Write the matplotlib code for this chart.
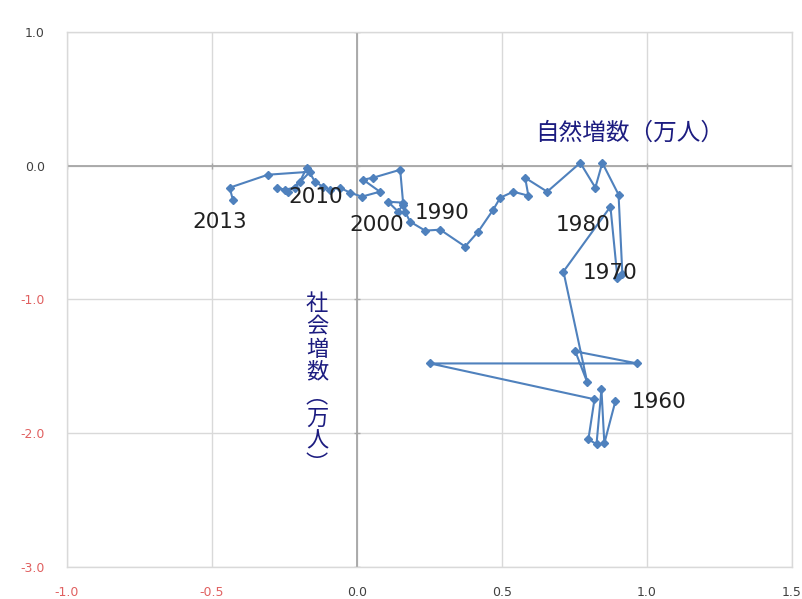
import numpy as np
import matplotlib.pyplot as plt

# natural increase (x) and social increase (y), 10k persons, 1960 -> 2013
natural = [0.891, 0.853, 0.843, 0.826, 0.798, 0.819, 0.252, 0.967, 0.753, 0.794,
           0.712, 0.874, 0.898, 0.915, 0.902, 0.846, 0.822, 0.770, 0.656, 0.580,
           0.591, 0.539, 0.494, 0.470, 0.418, 0.373, 0.287, 0.235, 0.183, 0.166,
           0.159, 0.142, 0.107, 0.159, 0.149, 0.055, 0.021, 0.079, 0.017, -0.024,
           -0.059, -0.093, -0.117, -0.145, -0.173, -0.197, -0.238, -0.276, -0.249, -0.214,
           -0.162, -0.307, -0.439, -0.428]
social = [-1.761, -2.075, -1.672, -2.082, -2.045, -1.746, -1.478, -1.478, -1.388, -1.619,
          -0.791, -0.306, -0.836, -0.806, -0.216, 0.022, -0.164, 0.022, -0.194, -0.090,
          -0.224, -0.194, -0.239, -0.328, -0.493, -0.604, -0.478, -0.485, -0.418, -0.343,
          -0.291, -0.343, -0.269, -0.276, -0.030, -0.090, -0.104, -0.194, -0.231, -0.201,
          -0.164, -0.179, -0.157, -0.119, -0.015, -0.119, -0.194, -0.164, -0.179, -0.164,
          -0.045, -0.067, -0.164, -0.254]

yearLabels = ["2013", "2010", "2000", "1990", "1980", "1970", "1960"]
yearLabelX = [-0.473, -0.142, 0.069, 0.294, 0.781, 0.874, 1.043]
yearLabelY = [-0.418, -0.231, -0.440, -0.351, -0.440, -0.799, -1.769]

xTicks = [-1.0, -0.5, 0.0, 0.5, 1.0, 1.5]
yTicks = [-3.0, -2.0, -1.0, 0.0, 1.0]

xTitle = "自然増数（万人）"
yTitle = "社会増数（万人）"

lineColor = '#4f81bd'
gridColor = '#d9d9d9'
axisColor = '#a6a6a6'
titleColor = '#1c1c80'

fig = plt.figure(figsize=(8.02, 5.99), dpi=100)
ax = fig.add_axes([0.0835, 0.0534, 0.9040, 0.8932])

ax.set_xlim(-1.0, 1.5)
ax.set_ylim(-3.0, 1.0)
ax.set_xticks(xTicks)
ax.set_yticks(yTicks)
ax.set_xticklabels(["%.1f" % v for v in xTicks])
ax.set_yticklabels(["%.1f" % v for v in yTicks])
ax.tick_params(axis='both', length=0, labelsize=9)
ax.tick_params(axis='x', pad=14)
ax.tick_params(axis='y', pad=16)
for lab, v in zip(ax.get_xticklabels(), xTicks):
    lab.set_color('#e06060' if v < 0 else '#404040')
for lab, v in zip(ax.get_yticklabels(), yTicks):
    lab.set_color('#e06060' if v < 0 else '#404040')

ax.grid(True, color=gridColor, lw=1.0)
ax.set_axisbelow(True)
for s in ax.spines.values():
    s.set_color(gridColor)
    s.set_linewidth(1.0)

# axes through zero
ax.axhline(0, color=axisColor, lw=1.3, zorder=1)
ax.axvline(0, color=axisColor, lw=1.3, zorder=1)
ax.plot(xTicks, np.zeros(len(xTicks)), ls='none', marker='|', ms=5, color=axisColor, zorder=1)
ax.plot(np.zeros(len(yTicks)), yTicks, ls='none', marker='_', ms=5, color=axisColor, zorder=1)

ax.plot(natural, social, '-', color=lineColor, lw=1.5, marker='D', ms=4.5,
        mfc=lineColor, mec=lineColor, zorder=3)

for t, x, y in zip(yearLabels, yearLabelX, yearLabelY):
    ax.text(x, y, t, fontsize=15.5, color='#202020', ha='center', va='center', zorder=4)

ax.text(0.940, 0.246, xTitle, fontsize=17, color=titleColor, ha='center', va='center',
        family=['Noto Sans CJK JP', 'DejaVu Sans'])
ax.text(-0.138, -1.63, "\n".join(["社", "会", "増", "数", "︵", "万", "人", "︶"]),
        fontsize=16, color=titleColor, ha='center', va='center', linespacing=1.0,
        family=['Noto Sans CJK JP', 'DejaVu Sans'])

fig.savefig("out.png", dpi=100)
